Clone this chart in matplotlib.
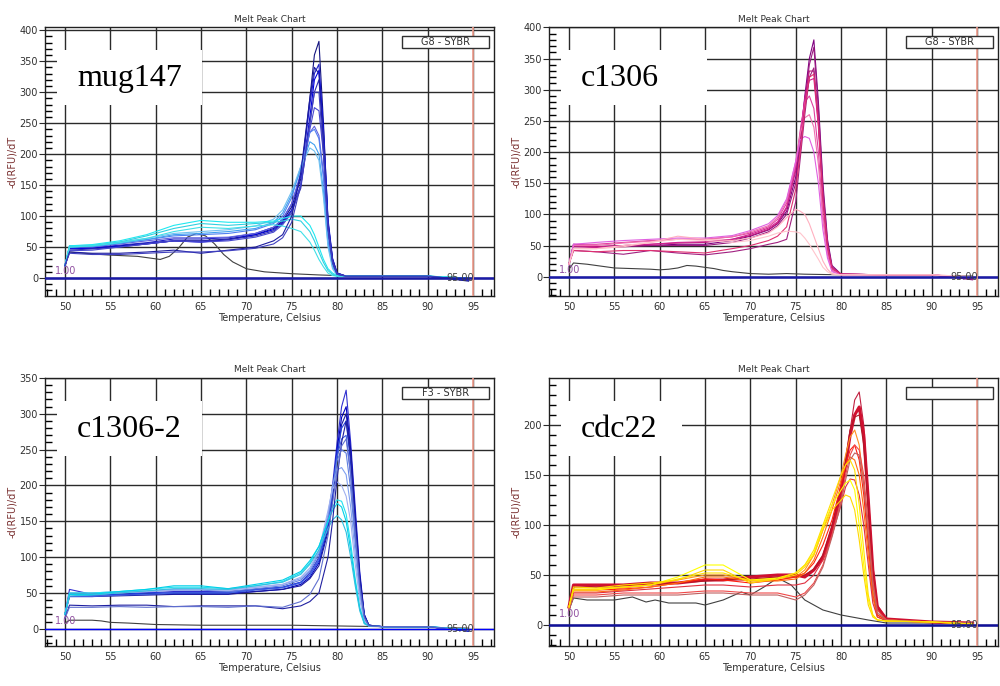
"""Four melt peak charts (-dF/dT vs temperature), 2x2 grid, saved to out.png."""
import matplotlib
matplotlib.use("Agg")
import matplotlib.pyplot as plt
from matplotlib.patches import Rectangle
from matplotlib.ticker import MultipleLocator

# ---------------- mug147 ----------------
MUG_T = [50, 50.5, 53, 56, 59, 62, 65, 68, 71, 73, 74, 75, 76, 77, 77.5, 78,
         78.5, 79, 79.5, 80, 81, 85, 90, 94.5]
MUG_CURVES = [
    [20, 50, 48, 52, 56, 60, 60, 63, 70, 80, 92, 115, 160, 290, 360, 382, 250, 90, 30, 8, 3, 3, 3, -5],
    [20, 48, 49, 53, 57, 63, 63, 65, 72, 82, 95, 120, 165, 280, 330, 345, 230, 85, 28, 7, 3, 3, 3, -4],
    [20, 47, 48, 51, 55, 60, 58, 62, 70, 78, 90, 110, 150, 260, 320, 335, 240, 95, 32, 8, 3, 3, 3, -3],
    [20, 45, 47, 50, 55, 60, 60, 62, 68, 76, 88, 108, 145, 250, 300, 320, 230, 90, 30, 8, 3, 3, 3, -3],
    [20, 44, 45, 50, 55, 60, 58, 60, 66, 74, 86, 105, 150, 240, 275, 270, 200, 80, 25, 6, 3, 3, 3, -2],
    [20, 50, 50, 55, 60, 65, 65, 66, 72, 82, 95, 120, 170, 235, 245, 230, 170, 70, 22, 6, 3, 3, 3, -2],
    [20, 52, 52, 57, 62, 68, 70, 72, 78, 88, 100, 130, 180, 235, 240, 225, 160, 60, 20, 5, 3, 3, 3, -2],
    [20, 50, 51, 56, 62, 70, 72, 75, 80, 90, 105, 135, 175, 220, 215, 200, 140, 55, 18, 5, 3, 3, 3, -1],
    [20, 52, 53, 58, 64, 72, 75, 78, 84, 95, 110, 140, 180, 210, 205, 190, 130, 50, 15, 4, 3, 3, 3, -1],
    [20, 52, 54, 60, 70, 85, 93, 90, 90, 92, 96, 100, 100, 85, 70, 50, 30, 15, 8, 4, 3, 3, 3, 0],
    [20, 50, 52, 58, 68, 80, 88, 85, 88, 90, 92, 95, 92, 75, 60, 42, 25, 12, 6, 3, 3, 3, 3, 0],
    [20, 50, 52, 57, 64, 75, 82, 80, 84, 86, 84, 80, 75, 58, 45, 30, 18, 8, 4, 3, 3, 3, 3, 0],
    [20, 42, 40, 40, 42, 45, 40, 45, 50, 60, 70, 100, 170, 290, 340, 330, 210, 80, 25, 6, 3, 3, 3, -3],
    [20, 40, 38, 38, 40, 42, 42, 44, 48, 55, 65, 90, 150, 250, 300, 300, 200, 80, 25, 6, 3, 3, 3, -3],
]
MUG_COLORS = ["#141480", "#2020c8", "#0000e0", "#3030b0", "#4848d0", "#6060e0",
              "#5080f0", "#40a0f0", "#70c0f0", "#20e8f0", "#30d0e0", "#40e0e8",
              "#1c1ca0", "#4040c0"]
MUG_NTC_T = [50, 50.5, 52, 55, 58, 60, 60.5, 61.5, 62.5, 63.5, 64.5, 65.5, 66.5,
             67.5, 68.5, 70, 72, 75, 78, 80, 85, 90, 94.5]
MUG_NTC_V = [20, 42, 40, 37, 35, 31, 30, 35, 48, 66, 72, 68, 55, 38, 26, 15,
             10, 7, 5, 4, 3, 3, 0]

# ---------------- c1306 ----------------
C1_T = [50, 50.5, 53, 56, 59, 62, 65, 68, 70, 72, 73, 74, 75, 75.5, 76, 76.5,
        77, 77.5, 78, 78.5, 79, 80, 85, 90, 94.5]
C1_CURVES = [
    [20, 52, 48, 50, 50, 52, 52, 58, 65, 75, 85, 105, 160, 215, 290, 350, 380, 280, 150, 60, 18, 4, 3, 3, -5],
    [20, 50, 47, 48, 50, 50, 50, 55, 62, 72, 82, 100, 150, 210, 280, 340, 368, 270, 140, 55, 15, 4, 3, 3, -4],
    [20, 50, 48, 50, 52, 54, 55, 60, 66, 76, 86, 110, 170, 225, 285, 330, 330, 250, 130, 50, 15, 4, 3, 3, -3],
    [20, 48, 47, 50, 52, 55, 56, 60, 68, 78, 88, 112, 175, 230, 285, 315, 318, 240, 120, 45, 12, 4, 3, 3, -3],
    [20, 52, 52, 55, 58, 60, 60, 64, 70, 80, 92, 118, 180, 235, 280, 290, 270, 200, 100, 40, 10, 4, 3, 3, -2],
    [20, 50, 50, 54, 57, 60, 60, 64, 72, 82, 95, 122, 185, 230, 255, 260, 240, 180, 90, 35, 10, 3, 3, 3, -2],
    [20, 52, 55, 58, 60, 62, 62, 66, 74, 85, 98, 125, 185, 220, 225, 222, 200, 150, 75, 30, 8, 3, 3, 3, -2],
    [20, 42, 40, 36, 42, 38, 35, 40, 45, 52, 55, 60, 120, 190, 260, 320, 335, 250, 130, 50, 15, 4, 3, 3, -3],
    [20, 42, 40, 42, 42, 40, 38, 45, 50, 58, 65, 80, 140, 200, 270, 320, 325, 245, 125, 48, 14, 4, 3, 3, -3],
    [20, 45, 45, 48, 55, 65, 60, 58, 62, 70, 80, 95, 108, 105, 100, 85, 65, 45, 25, 12, 5, 3, 3, 3, 0],
    [20, 45, 45, 50, 55, 60, 58, 55, 58, 65, 70, 73, 72, 70, 62, 52, 40, 28, 15, 8, 4, 3, 3, 3, 0],
]
C1_COLORS = ["#800080", "#9b1b80", "#c0187a", "#d02090", "#e040a0", "#f070b0",
             "#e060e0", "#a02080", "#e03070", "#ffb0c0", "#ffc4cc"]
C1_NTC_T = [50, 50.5, 52, 54, 55, 57, 59, 60, 61, 62, 63, 64, 65, 66, 67, 68,
            70, 72, 74, 76, 80, 85, 94.5]
C1_NTC_V = [12, 22, 20, 16, 14, 13, 12, 11, 12, 14, 18, 17, 15, 13, 10, 8,
            5, 4, 5, 4, 3, 3, 1]

# ---------------- c1306-2 ----------------
C2_T = [50, 50.5, 53, 56, 59, 62, 65, 68, 71, 74, 76, 77, 78, 79, 79.5, 80,
        80.5, 81, 81.5, 82, 82.5, 83, 83.5, 85, 90, 94.5]
C2_CURVES = [
    [20, 55, 48, 50, 50, 52, 52, 52, 55, 58, 65, 78, 100, 150, 200, 260, 310, 333, 260, 170, 80, 20, 5, 3, 3, -3],
    [20, 48, 47, 48, 48, 50, 50, 50, 52, 55, 62, 72, 92, 140, 190, 250, 295, 310, 250, 160, 75, 20, 5, 3, 3, -3],
    [20, 45, 45, 46, 47, 48, 48, 48, 52, 55, 60, 70, 88, 135, 180, 240, 285, 300, 245, 150, 70, 18, 5, 3, 3, -3],
    [20, 48, 47, 48, 50, 50, 50, 50, 55, 58, 65, 75, 95, 145, 190, 245, 280, 290, 230, 140, 65, 18, 5, 3, 3, -3],
    [20, 45, 45, 47, 48, 50, 50, 50, 54, 57, 64, 75, 98, 150, 195, 240, 265, 270, 215, 130, 60, 15, 4, 3, 3, -2],
    [20, 48, 48, 50, 52, 54, 54, 52, 56, 60, 68, 80, 105, 155, 195, 235, 250, 245, 195, 120, 55, 15, 4, 3, 3, -2],
    [20, 50, 50, 52, 53, 55, 55, 54, 58, 62, 70, 82, 108, 160, 200, 222, 225, 215, 170, 105, 48, 12, 4, 3, 3, -2],
    [20, 48, 48, 50, 52, 54, 55, 54, 58, 62, 72, 85, 110, 165, 195, 205, 200, 185, 150, 90, 40, 10, 4, 3, 3, -2],
    [20, 50, 50, 52, 55, 58, 58, 56, 60, 66, 78, 92, 115, 150, 170, 180, 178, 160, 120, 70, 30, 8, 4, 3, 3, -1],
    [20, 48, 48, 52, 55, 60, 60, 56, 62, 68, 80, 95, 115, 150, 165, 175, 170, 150, 110, 65, 28, 8, 4, 3, 3, -1],
    [20, 46, 47, 50, 53, 56, 56, 55, 60, 65, 76, 90, 110, 140, 152, 158, 152, 135, 100, 60, 25, 7, 4, 3, 3, -1],
    [15, 33, 32, 33, 33, 31, 32, 32, 32, 28, 32, 38, 50, 100, 150, 210, 260, 290, 240, 150, 70, 18, 5, 3, 3, -3],
    [15, 30, 30, 31, 30, 31, 31, 30, 32, 30, 38, 48, 70, 130, 175, 220, 255, 265, 215, 135, 60, 16, 4, 3, 3, -2],
]
C2_COLORS = ["#3030d0", "#0000c0", "#1a1aa0", "#2040e0", "#4060e0", "#6080e0",
             "#80a0f0", "#a0b0f0", "#20e0f0", "#00d0e8", "#30c0e0", "#2020a0",
             "#6070d0"]
C2_NTC_T = [50, 50.5, 53, 54, 55, 57, 60, 65, 70, 75, 80, 85, 94.5]
C2_NTC_V = [8, 12, 12, 11, 9, 8, 6, 5, 5, 5, 4, 3, 1]

# ---------------- cdc22 ----------------
CDC_T = [50, 50.5, 53, 56, 59, 62, 65, 67, 70, 73, 75, 76, 77, 78, 79, 80,
         80.5, 81, 81.5, 82, 82.5, 83, 83.5, 84, 85, 90, 94.5]
CDC_CURVES = [
    [18, 40, 38, 40, 40, 42, 45, 45, 45, 48, 48, 50, 55, 65, 90, 130, 160, 195, 225, 233, 200, 130, 60, 20, 6, 3, 2],
    [18, 40, 40, 40, 42, 42, 45, 45, 48, 50, 50, 48, 55, 68, 95, 135, 160, 190, 210, 218, 190, 125, 55, 18, 6, 3, 2],
    [18, 38, 38, 38, 40, 42, 44, 45, 46, 48, 48, 50, 56, 70, 100, 140, 165, 195, 208, 210, 180, 115, 50, 15, 5, 3, 2],
    [18, 35, 35, 37, 40, 45, 50, 50, 45, 45, 48, 55, 70, 95, 120, 150, 170, 188, 195, 180, 140, 85, 35, 10, 5, 3, 2],
    [18, 35, 35, 36, 38, 42, 46, 45, 42, 45, 48, 52, 62, 80, 105, 140, 160, 175, 180, 165, 130, 80, 30, 10, 5, 3, 2],
    [18, 33, 33, 35, 38, 42, 48, 48, 44, 44, 46, 52, 65, 88, 115, 145, 160, 168, 165, 150, 115, 70, 28, 8, 5, 3, 2],
    [18, 32, 32, 34, 36, 38, 40, 40, 38, 40, 40, 42, 50, 65, 90, 120, 138, 146, 145, 130, 100, 60, 22, 8, 4, 3, 2],
    [15, 30, 30, 32, 32, 32, 34, 34, 32, 32, 28, 32, 42, 60, 90, 125, 150, 170, 180, 175, 150, 100, 45, 15, 5, 3, 2],
    [15, 28, 28, 30, 30, 30, 32, 32, 30, 30, 25, 30, 40, 58, 88, 122, 145, 165, 172, 170, 140, 90, 40, 12, 5, 3, 2],
    [18, 35, 35, 38, 40, 48, 60, 60, 45, 47, 52, 60, 72, 98, 120, 135, 142, 145, 135, 100, 60, 25, 10, 5, 4, 3, 1],
    [18, 38, 37, 40, 42, 45, 55, 55, 42, 46, 50, 58, 70, 95, 115, 125, 130, 128, 115, 85, 50, 20, 8, 5, 4, 3, 1],
    [18, 36, 36, 38, 40, 46, 52, 52, 44, 46, 52, 60, 75, 100, 125, 150, 160, 165, 155, 120, 75, 30, 10, 5, 4, 3, 1],
]
CDC_COLORS = ["#c02040", "#d01030", "#b01828", "#ff9020", "#ff2010", "#ff7010",
              "#e03040", "#f04848", "#c06060", "#ffff00", "#ffd700", "#ffe000"]
CDC_NTC_T = [50, 50.5, 52, 55, 57, 58.5, 59.5, 61, 64, 65, 67, 69, 70, 71.5,
             73, 74.5, 76, 78, 80, 83, 85, 90, 94.5]
CDC_NTC_V = [15, 27, 25, 25, 28, 23, 25, 22, 22, 20, 25, 33, 30, 38, 47, 40,
             25, 15, 10, 5, 2, 2, 1]

GRID_C = "#2a2a2a"
TXT_C = "#303030"


def draw_panel(ax, temps, curves, colors, ntc_t, ntc_v, name, legend,
               ylim, ymax_tick, box_w, zero_c="#1a1aa8", zero_lw=1.8, thick=()):
    ax.set_xlim(47.8, 97.3)
    ax.set_ylim(*ylim)
    ax.set_xticks(range(50, 96, 5))
    ax.set_yticks(range(0, ymax_tick + 1, 50))
    ax.xaxis.set_minor_locator(MultipleLocator(1))
    ax.yaxis.set_minor_locator(MultipleLocator(10))
    ax.tick_params(axis="x", which="major", length=0, pad=4, labelsize=7, labelcolor=TXT_C)
    ax.tick_params(axis="y", which="major", length=4, direction="out", pad=1,
                   labelsize=7, labelcolor=TXT_C, color=GRID_C)
    ax.tick_params(which="minor", direction="in", length=5, color="black", width=1.0)
    ax.grid(True, which="major", color=GRID_C, lw=1.0)
    ax.set_axisbelow(True)
    for sp in ax.spines.values():
        sp.set_color("#202020")
        sp.set_linewidth(1.0)

    ax.set_title("Melt Peak Chart", fontsize=6.5, color=TXT_C, pad=4)
    ax.set_xlabel("Temperature, Celsius", fontsize=7, color=TXT_C, labelpad=1)
    ax.set_ylabel("-d(RFU)/dT", fontsize=7, color="#7a3030", labelpad=2)

    ax.plot(ntc_t, ntc_v, color="#404040", lw=0.8, zorder=3)
    for i, (vals, c) in enumerate(zip(curves, colors)):
        ax.plot(temps, vals, color=c, lw=2.2 if i in thick else 0.8, zorder=3)

    ax.axhline(0, color=zero_c, lw=zero_lw, zorder=4)
    ax.axvline(95, color="#f4a090", lw=1.2, zorder=4)
    ax.text(50.1, 11, "1.00", fontsize=7, color="#9050a0", ha="center", va="center", zorder=5)
    ax.text(93.6, 0, "95.00", fontsize=7, color="#404040", ha="center", va="center", zorder=5)

    # white label box over the grid
    ax.add_patch(Rectangle((0.027, 0.71), box_w, 0.205, transform=ax.transAxes,
                           facecolor="white", edgecolor="none", zorder=2))
    ax.text(0.071, 0.808, name, transform=ax.transAxes, fontsize=23,
            family="Liberation Serif", va="center", ha="left", zorder=5)

    # legend-style box at upper right
    ax.add_patch(Rectangle((0.795, 0.922), 0.194, 0.045, transform=ax.transAxes,
                           facecolor="white", edgecolor="#303030", lw=1.0, zorder=5))
    if legend:
        ax.text(0.892, 0.944, legend, transform=ax.transAxes, fontsize=7,
                color=TXT_C, ha="center", va="center", zorder=6)


fig = plt.figure(figsize=(10, 6.86), dpi=100)
ax1 = fig.add_axes([0.045, 0.5685, 0.449, 0.392])
ax2 = fig.add_axes([0.549, 0.5685, 0.449, 0.392])
ax3 = fig.add_axes([0.045, 0.0583, 0.449, 0.3907])
ax4 = fig.add_axes([0.549, 0.0583, 0.449, 0.3907])

draw_panel(ax1, MUG_T, MUG_CURVES, MUG_COLORS, MUG_NTC_T, MUG_NTC_V, "mug147",
           "G8 - SYBR", (-29, 405), 400, 0.323)
draw_panel(ax2, C1_T, C1_CURVES, C1_COLORS, C1_NTC_T, C1_NTC_V, "c1306",
           "G8 - SYBR", (-31, 400.5), 400, 0.325)
draw_panel(ax3, C2_T, C2_CURVES, C2_COLORS, C2_NTC_T, C2_NTC_V, "c1306-2",
           "F3 - SYBR", (-24, 350), 350, 0.323, zero_c="#0000ff", zero_lw=1.0)
draw_panel(ax4, CDC_T, CDC_CURVES, CDC_COLORS, CDC_NTC_T, CDC_NTC_V, "cdc22",
           "", (-21, 247), 200, 0.27, zero_c="#10109a", thick=(1,))

fig.savefig("out.png", dpi=100, facecolor="white")
